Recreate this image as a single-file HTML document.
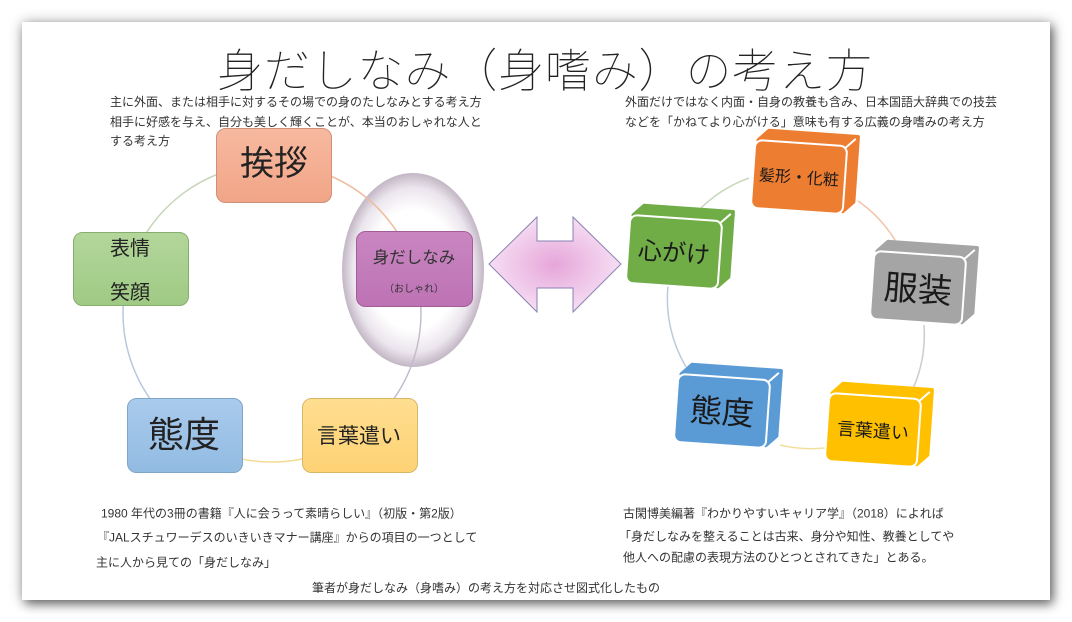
<!DOCTYPE html>
<html><head><meta charset="utf-8"><style>
html,body{margin:0;padding:0;background:#fff;width:1072px;height:622px;overflow:hidden;}
.card{position:absolute;left:22px;top:22px;width:1028px;height:578px;background:#fff;box-shadow:3px 4px 10px rgba(0,0,0,0.55),0 0 14px rgba(0,0,0,0.22);}
svg{position:absolute;left:0;top:0;}
text{font-family:"Liberation Sans","Noto Sans CJK JP",sans-serif;}
.s{font-size:12px;fill:#333;}
</style></head><body>
<div class="card"></div>
<svg width="1072" height="622" viewBox="0 0 1072 622" xmlns="http://www.w3.org/2000/svg">
<defs>
<radialGradient id="eg" cx="50%" cy="50%" r="50%">
<stop offset="0" stop-color="#ffffff"/><stop offset="0.62" stop-color="#ffffff"/><stop offset="0.85" stop-color="#ebe5ed"/><stop offset="1" stop-color="#c2b6c4"/>
</radialGradient>
<radialGradient id="ag" cx="50%" cy="50%" r="50%">
<stop offset="0" stop-color="#e6a6da"/><stop offset="1" stop-color="#f6def3"/>
</radialGradient>
<linearGradient id="g1" x1="0" y1="0" x2="0" y2="1"><stop offset="0" stop-color="#f7b9a0"/><stop offset="1" stop-color="#f1a587"/></linearGradient>
<linearGradient id="g2" x1="0" y1="0" x2="0" y2="1"><stop offset="0" stop-color="#b3d69b"/><stop offset="1" stop-color="#9fca84"/></linearGradient>
<linearGradient id="g3" x1="0" y1="0" x2="0" y2="1"><stop offset="0" stop-color="#a9cbec"/><stop offset="1" stop-color="#92bbe2"/></linearGradient>
<linearGradient id="g4" x1="0" y1="0" x2="0" y2="1"><stop offset="0" stop-color="#ffde90"/><stop offset="1" stop-color="#fed274"/></linearGradient>
<linearGradient id="g5" x1="0" y1="0" x2="0" y2="1"><stop offset="0" stop-color="#c986c1"/><stop offset="1" stop-color="#bd72b4"/></linearGradient>
</defs>

<!-- title -->
<text x="217" y="87" font-size="46" font-weight="200" fill="#222" textLength="655" lengthAdjust="spacing" style="font-family:'Liberation Sans','Noto Sans CJK JP Thin','Noto Sans CJK JP Light','Noto Sans CJK JP DemiLight','Noto Sans CJK JP',sans-serif;">身だしなみ（身嗜み）の考え方</text>

<!-- top texts -->
<text class="s" x="110" y="106">主に外面、または相手に対するその場での身のたしなみとする考え方</text>
<text class="s" x="110" y="126">相手に好感を与え、自分も美しく輝くことが、本当のおしゃれな人と</text>
<text class="s" x="110" y="145">する考え方</text>
<text class="s" x="625" y="106">外面だけではなく内面・自身の教養も含み、日本国語大辞典での技芸</text>
<text class="s" x="625" y="126">などを「かねてより心がける」意味も有する広義の身嗜みの考え方</text>

<!-- ellipse -->
<ellipse cx="413" cy="270" rx="71" ry="97" fill="url(#eg)"/>

<!-- double arrow -->
<polygon points="489,264 537,217 537,241 573,241 573,217 621,264 573,312 573,288 537,288 537,312" fill="url(#ag)" stroke="#8a82b4" stroke-width="1"/>

<!-- left arcs -->
<g fill="none" stroke-width="1.5">
<path d="M129.5,269.4 A149,149 0 0 1 274.6,164" stroke="#c6d6b6"/>
<path d="M274.6,164 A149,149 0 0 1 414,267.9" stroke="#efbb9d"/>
<path d="M414,267.9 A149,149 0 0 1 358.5,434.3" stroke="#c4bccc"/>
<path d="M358.5,434.3 A149,149 0 0 1 184.8,433.9" stroke="#f2dc94"/>
<path d="M184.8,433.9 A149,149 0 0 1 129.5,269.4" stroke="#b6c9de"/>
</g>

<!-- right arcs -->
<g fill="none" stroke-width="1.5">
<path d="M697,212 A135,135 0 0 1 749,178" stroke="#c9d9bd"/>
<path d="M858,201 A135,135 0 0 1 898,245" stroke="#f2c4a8"/>
<path d="M924,325 A135,135 0 0 1 910,395" stroke="#cccccc"/>
<path d="M825,448 A135,135 0 0 1 780,445" stroke="#f3e0a0"/>
<path d="M686,367 A135,135 0 0 1 668,285" stroke="#bccbdc"/>
</g>

<!-- left boxes -->
<rect x="216.5" y="128.5" width="115" height="74" rx="9" fill="url(#g1)" stroke="#cf907a" stroke-width="1"/>
<text x="274" y="175" font-size="34" text-anchor="middle" fill="#222">挨拶</text>

<rect x="73.5" y="232.5" width="115" height="73" rx="9" fill="url(#g2)" stroke="#86ae6e" stroke-width="1"/>
<text x="130" y="255" font-size="20" text-anchor="middle" fill="#222">表情</text>
<text x="130" y="299" font-size="20" text-anchor="middle" fill="#222">笑顔</text>

<rect x="127.5" y="398.5" width="115" height="74" rx="9" fill="url(#g3)" stroke="#7fa5c9" stroke-width="1"/>
<text x="184" y="447" font-size="36" text-anchor="middle" fill="#222">態度</text>

<rect x="302.5" y="398.5" width="115" height="74" rx="9" fill="url(#g4)" stroke="#d7b866" stroke-width="1"/>
<text x="359" y="443" font-size="21" text-anchor="middle" fill="#222">言葉遣い</text>

<rect x="356.5" y="231.5" width="116" height="75" rx="9" fill="url(#g5)" stroke="#a15d99" stroke-width="1"/>
<text x="414" y="263" font-size="16.5" text-anchor="middle" fill="#333">身だしなみ</text>
<text x="414" y="292" font-size="10" text-anchor="middle" fill="#333">（おしゃれ）</text>

<!-- right 3D boxes -->
<g transform="rotate(4 799 177)">
<polygon points="756,143 766,133 855,133 855,198 845,208 845,143" fill="#ed7d31" stroke="#ed7d31" stroke-width="4" stroke-linejoin="round"/>
<path d="M843,145 L853,135" stroke="#fff" stroke-width="2"/>
<rect x="753" y="143" width="92" height="68" rx="7" fill="#ed7d31" stroke="#fff" stroke-width="2"/>
<text x="799" y="183" font-size="16" text-anchor="middle" fill="#1a1a1a">髪形・化粧</text>
</g>

<g transform="rotate(4 674 252)">
<polygon points="631,218 641,208 730,208 730,273 720,283 720,218" fill="#70ad47" stroke="#70ad47" stroke-width="4" stroke-linejoin="round"/>
<path d="M718,220 L728,210" stroke="#fff" stroke-width="2"/>
<rect x="628" y="218" width="92" height="68" rx="7" fill="#70ad47" stroke="#fff" stroke-width="2"/>
<text x="674" y="261" font-size="24" text-anchor="middle" fill="#1a1a1a">心がけ</text>
</g>

<g transform="rotate(4 918 288)">
<polygon points="875,254 885,244 974,244 974,309 964,319 964,254" fill="#a5a5a5" stroke="#a5a5a5" stroke-width="4" stroke-linejoin="round"/>
<path d="M962,256 L972,246" stroke="#fff" stroke-width="2"/>
<rect x="872" y="254" width="92" height="68" rx="7" fill="#a5a5a5" stroke="#fff" stroke-width="2"/>
<text x="918" y="301" font-size="34" text-anchor="middle" fill="#1a1a1a">服装</text>
</g>

<g transform="rotate(4 722 411)">
<polygon points="679,377 689,367 778,367 778,432 768,442 768,377" fill="#5b9bd5" stroke="#5b9bd5" stroke-width="4" stroke-linejoin="round"/>
<path d="M766,379 L776,369" stroke="#fff" stroke-width="2"/>
<rect x="676" y="377" width="92" height="68" rx="7" fill="#5b9bd5" stroke="#fff" stroke-width="2"/>
<text x="722" y="423" font-size="32" text-anchor="middle" fill="#1a1a1a">態度</text>
</g>

<g transform="rotate(4 873 430)">
<polygon points="830,396 840,386 929,386 929,451 919,461 919,396" fill="#ffc000" stroke="#ffc000" stroke-width="4" stroke-linejoin="round"/>
<path d="M917,398 L927,388" stroke="#fff" stroke-width="2"/>
<rect x="827" y="396" width="92" height="68" rx="7" fill="#ffc000" stroke="#fff" stroke-width="2"/>
<text x="873" y="437" font-size="18" text-anchor="middle" fill="#1a1a1a">言葉遣い</text>
</g>

<!-- bottom texts -->
<text class="s" x="101" y="517.5">1980 年代の3冊の書籍『人に会うって素晴らしい』（初版・第2版）</text>
<text class="s" x="97" y="541.5">『JALスチュワーデスのいきいきマナー講座』からの項目の一つとして</text>
<text class="s" x="96" y="566.5">主に人から見ての「身だしなみ」</text>
<text class="s" x="312" y="592">筆者が身だしなみ（身嗜み）の考え方を対応させ図式化したもの</text>
<text class="s" x="623" y="517.5">古閑博美編著『わかりやすいキャリア学』（2018）によれば</text>
<text class="s" x="619" y="540.5">「身だしなみを整えることは古来、身分や知性、教養としてや</text>
<text class="s" x="623" y="561.5">他人への配慮の表現方法のひとつとされてきた」とある。</text>
</svg>
</body></html>
